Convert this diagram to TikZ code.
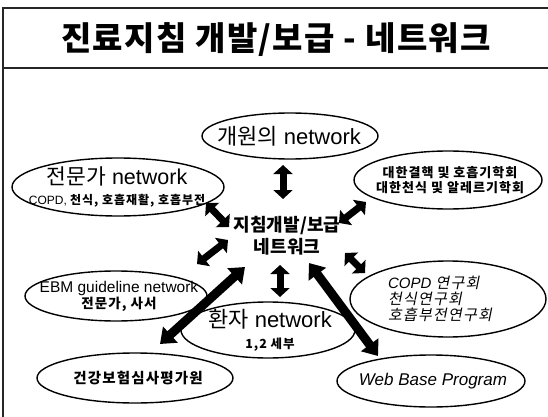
\documentclass[tikz,border=0pt]{standalone}
\usepackage{fontspec}
\setmainfont{Liberation Sans}
\newfontfamily\kr[AutoFakeSlant=0.2]{Noto Sans CJK KR}
\newfontfamily\krw[LetterSpace=8,AutoFakeSlant=0.2]{Noto Sans CJK KR}
\usetikzlibrary{arrows.meta}
\newcommand{\fsz}[2]{\fontsize{#1}{#2}\selectfont}

\begin{document}
\begin{tikzpicture}[x=1pt,y=-1pt,
  label/.style={align=center,inner sep=0pt},
  oval/.style={line width=1.4pt},
  fatarrow/.style={line width=7pt,{Triangle[width=19pt,length=9pt]}-{Triangle[width=19pt,length=9pt]}},
  longarrow/.style={line width=9pt,{Triangle[width=21pt,length=14pt]}-{Triangle[width=21pt,length=14pt]}},
  frame/.style={black!85,line width=1.2pt}]
  \useasboundingbox (0,0) rectangle (548,417);

  % title bar
  \draw[frame] (3,417) -- (3,8) -- (548,8);
  \draw[frame] (3,68) -- (548,68);
  \node (title) at (276,40) {\fsz{33}{38}\kr\bfseries\addfontfeature{LetterSpace=4}진료지침 개발/보급 - 네트워크};

  % hub in the middle
  \node[label,font=\fsz{18}{22}\kr\bfseries] (hub) at (287,236) {지침개발/보급\\네트워크};

  % the surrounding networks
  \node[label,font=\fsz{22}{24}] (gp) at (289,136) {{\kr 개원의} network};
  \node[label,font=\fsz{21.5}{22}] (expert) at (117,187)
    {{\kr 전문가} network\\[-2pt]\fsz{12}{13}COPD, {\krw\bfseries 천식, 호흡재활, 호흡부전}};
  \node[label,font=\fsz{13}{13}\krw\bfseries] (society) at (450,180)
    {대한결핵 및 호흡기학회\\[2pt]대한천식 및 알레르기학회};
  \node[label,font=\fsz{15.5}{17}] (ebm) at (119,296)
    {EBM guideline network\\[-1pt]\fsz{13.5}{14}\krw\bfseries 전문가, 사서};
  \node[label,font=\fsz{22}{22}] (patient) at (270,330)
    {{\kr 환자} network\\[-1pt]\fsz{12.5}{13}\krw\bfseries 1,2 세부};
  \node[label,align=left,font=\fsz{15}{15}\itshape] (study) at (440,299)
    {COPD {\krw 연구회}\\[1pt]\krw 천식연구회\\[1pt]\krw 호흡부전연구회};
  \node[label,font=\fsz{14.5}{17}\krw\bfseries] (hira) at (138,378) {건강보험심사평가원};
  \node[label,font=\fsz{17}{20}\itshape] (web) at (433,381) {Web Base Program};

  % outlines: node/x shift/x radius/y radius
  \foreach \n/\dx/\rx/\ry in {gp/1/88/23, expert/1/106/29, society/-2/94/29,
      ebm/-3/91/25, patient/-2/87/28, study/8/98/38, hira/-3/98/25, web/-2/94/26}
    \draw[oval] ([xshift=\dx pt]\n.center) ellipse [x radius=\rx pt, y radius=\ry pt];

  % arrow ends
  \coordinate (gp-a) at (283,165);   \coordinate (gp-b) at (283,199);
  \coordinate (ex-a) at (206,203);   \coordinate (ex-b) at (229,227);
  \coordinate (so-a) at (366,202);   \coordinate (so-b) at (339,223);
  \coordinate (eb-a) at (228,240);   \coordinate (eb-b) at (197,264);
  \coordinate (st-a) at (345,253);   \coordinate (st-b) at (365,273);
  \coordinate (pa-a) at (280,265);   \coordinate (pa-b) at (280,297);
  \coordinate (hi-a) at (245,267);   \coordinate (hi-b) at (160,344);
  \coordinate (we-a) at (309,263);   \coordinate (we-b) at (378,356);

  \foreach \s/\t in {gp-a/gp-b, ex-a/ex-b, so-a/so-b, eb-a/eb-b, st-a/st-b, pa-a/pa-b}
    \draw[fatarrow] (\s) -- (\t);
  \foreach \s/\t in {hi-a/hi-b, we-a/we-b}
    \draw[longarrow] (\s) -- (\t);
\end{tikzpicture}
\end{document}
